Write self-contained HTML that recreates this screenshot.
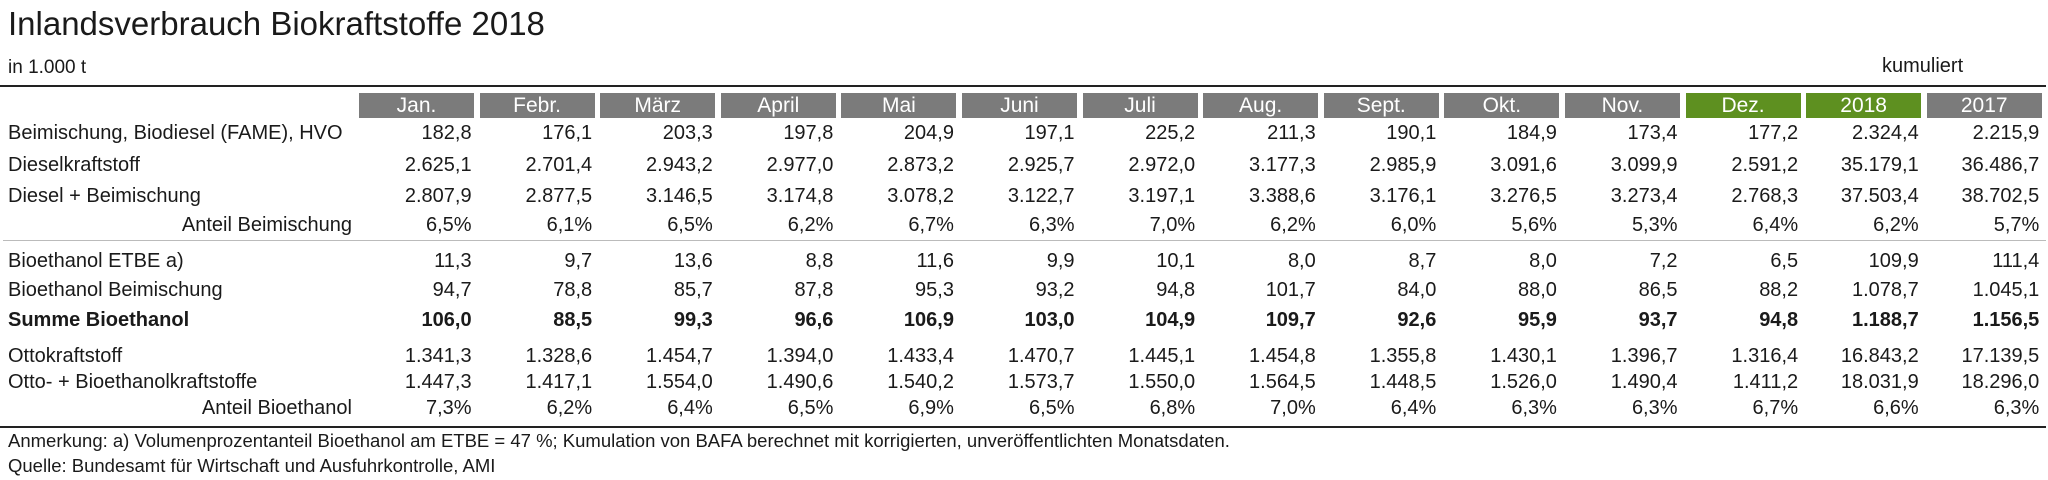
<!DOCTYPE html>
<html><head><meta charset="utf-8"><style>
body{margin:0;width:2048px;height:480px;background:#fff;position:relative;overflow:hidden;font-family:"Liberation Sans",sans-serif;color:#1a1a1a}
.a{position:absolute;white-space:nowrap}
.row{position:absolute;left:0;display:grid;grid-template-columns:359px repeat(14,120.6px);font-size:20px;line-height:20px;height:20px}
.row div{text-align:right;padding-right:8px}
.row div.l{text-align:left;padding-left:8px;padding-right:0}
.row div.r{text-align:right;padding-right:7px}
.hdr{position:absolute;left:0;top:93px;display:grid;grid-template-columns:359px repeat(14,120.6px)}
.hdr div span{display:block;width:115px;height:25px;background:#7b7b7b;color:#fff;font-size:21px;line-height:25px;text-align:center}
.hdr div span.g{background:#5e9020}
.b{font-weight:bold}
</style></head><body>
<div class="a" style="left:8px;top:7px;font-size:33px;line-height:33px">Inlandsverbrauch Biokraftstoffe 2018</div>
<div class="a" style="left:8px;top:58px;font-size:19px;line-height:19px">in 1.000 t</div>
<div class="a" style="left:1882px;top:56px;font-size:20px;line-height:20px">kumuliert</div>
<div class="a" style="left:0;top:85px;width:2046px;height:2px;background:#222"></div>
<div class="hdr"><div></div>
<div><span>Jan.</span></div><div><span>Febr.</span></div><div><span>März</span></div><div><span>April</span></div><div><span>Mai</span></div><div><span>Juni</span></div><div><span>Juli</span></div><div><span>Aug.</span></div><div><span>Sept.</span></div><div><span>Okt.</span></div><div><span>Nov.</span></div><div><span class="g">Dez.</span></div><div><span class="g">2018</span></div><div><span>2017</span></div>
</div>
<div class="row" style="top:123px"><div class="l">Beimischung, Biodiesel (FAME), HVO</div><div>182,8</div><div>176,1</div><div>203,3</div><div>197,8</div><div>204,9</div><div>197,1</div><div>225,2</div><div>211,3</div><div>190,1</div><div>184,9</div><div>173,4</div><div>177,2</div><div>2.324,4</div><div>2.215,9</div></div>
<div class="row" style="top:155px"><div class="l">Dieselkraftstoff</div><div>2.625,1</div><div>2.701,4</div><div>2.943,2</div><div>2.977,0</div><div>2.873,2</div><div>2.925,7</div><div>2.972,0</div><div>3.177,3</div><div>2.985,9</div><div>3.091,6</div><div>3.099,9</div><div>2.591,2</div><div>35.179,1</div><div>36.486,7</div></div>
<div class="row" style="top:186px"><div class="l">Diesel + Beimischung</div><div>2.807,9</div><div>2.877,5</div><div>3.146,5</div><div>3.174,8</div><div>3.078,2</div><div>3.122,7</div><div>3.197,1</div><div>3.388,6</div><div>3.176,1</div><div>3.276,5</div><div>3.273,4</div><div>2.768,3</div><div>37.503,4</div><div>38.702,5</div></div>
<div class="row" style="top:215px"><div class="r">Anteil Beimischung</div><div>6,5%</div><div>6,1%</div><div>6,5%</div><div>6,2%</div><div>6,7%</div><div>6,3%</div><div>7,0%</div><div>6,2%</div><div>6,0%</div><div>5,6%</div><div>5,3%</div><div>6,4%</div><div>6,2%</div><div>5,7%</div></div>
<div class="a" style="left:3px;top:240px;width:2043px;height:1px;background:#bbb"></div>
<div class="row" style="top:251px"><div class="l">Bioethanol ETBE a)</div><div>11,3</div><div>9,7</div><div>13,6</div><div>8,8</div><div>11,6</div><div>9,9</div><div>10,1</div><div>8,0</div><div>8,7</div><div>8,0</div><div>7,2</div><div>6,5</div><div>109,9</div><div>111,4</div></div>
<div class="row" style="top:280px"><div class="l">Bioethanol Beimischung</div><div>94,7</div><div>78,8</div><div>85,7</div><div>87,8</div><div>95,3</div><div>93,2</div><div>94,8</div><div>101,7</div><div>84,0</div><div>88,0</div><div>86,5</div><div>88,2</div><div>1.078,7</div><div>1.045,1</div></div>
<div class="row b" style="top:310px"><div class="l">Summe Bioethanol</div><div>106,0</div><div>88,5</div><div>99,3</div><div>96,6</div><div>106,9</div><div>103,0</div><div>104,9</div><div>109,7</div><div>92,6</div><div>95,9</div><div>93,7</div><div>94,8</div><div>1.188,7</div><div>1.156,5</div></div>
<div class="row" style="top:346px"><div class="l">Ottokraftstoff</div><div>1.341,3</div><div>1.328,6</div><div>1.454,7</div><div>1.394,0</div><div>1.433,4</div><div>1.470,7</div><div>1.445,1</div><div>1.454,8</div><div>1.355,8</div><div>1.430,1</div><div>1.396,7</div><div>1.316,4</div><div>16.843,2</div><div>17.139,5</div></div>
<div class="row" style="top:372px"><div class="l">Otto- + Bioethanolkraftstoffe</div><div>1.447,3</div><div>1.417,1</div><div>1.554,0</div><div>1.490,6</div><div>1.540,2</div><div>1.573,7</div><div>1.550,0</div><div>1.564,5</div><div>1.448,5</div><div>1.526,0</div><div>1.490,4</div><div>1.411,2</div><div>18.031,9</div><div>18.296,0</div></div>
<div class="row" style="top:398px"><div class="r">Anteil Bioethanol</div><div>7,3%</div><div>6,2%</div><div>6,4%</div><div>6,5%</div><div>6,9%</div><div>6,5%</div><div>6,8%</div><div>7,0%</div><div>6,4%</div><div>6,3%</div><div>6,3%</div><div>6,7%</div><div>6,6%</div><div>6,3%</div></div>
<div class="a" style="left:0;top:426px;width:2046px;height:2px;background:#222"></div>
<div class="a" style="left:8px;top:432px;font-size:18.5px;line-height:18.5px">Anmerkung: a) Volumenprozentanteil Bioethanol am ETBE = 47 %; Kumulation von BAFA berechnet mit korrigierten, unveröffentlichten Monatsdaten.</div>
<div class="a" style="left:8px;top:457px;font-size:18.5px;line-height:18.5px">Quelle: Bundesamt für Wirtschaft und Ausfuhrkontrolle, AMI</div>
</body></html>
